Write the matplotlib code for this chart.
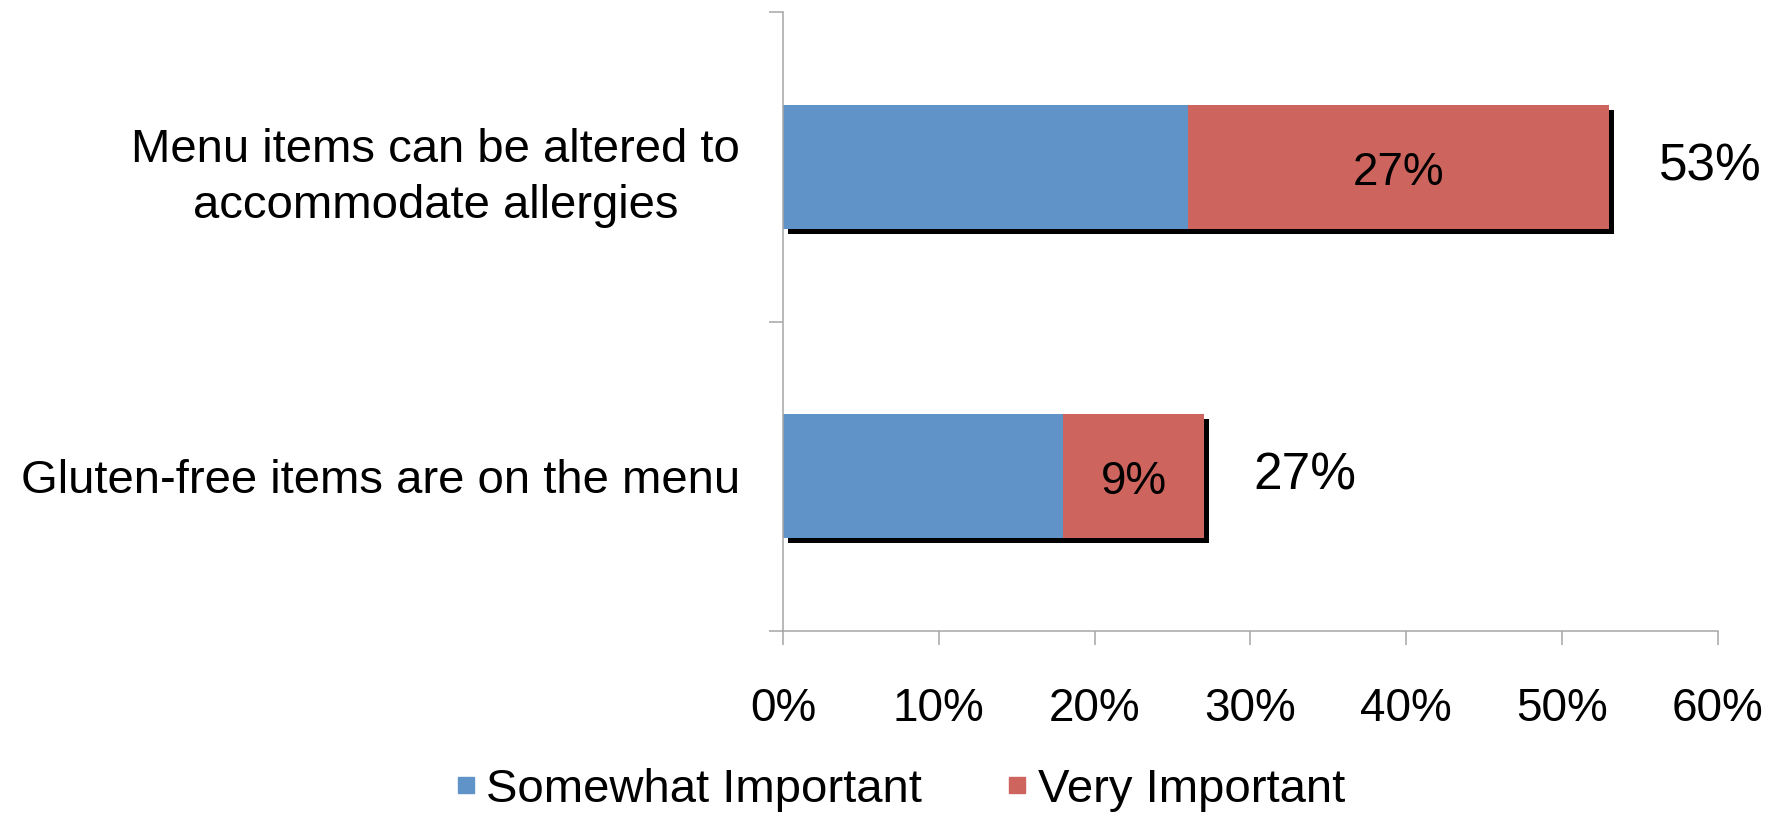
import matplotlib.pyplot as plt
import matplotlib.patheffects as pe
from matplotlib.lines import Line2D
from matplotlib.ticker import FuncFormatter

plt.rcParams["font.family"] = ["Liberation Sans", "DejaVu Sans"]

categories = ["Gluten-free items are on the menu",
              "Menu items can be altered to\naccommodate allergies"]
somewhat = [18, 26]
very = [9, 27]
totals = [27, 53]
series_names = ["Somewhat Important", "Very Important"]
colors = ["#6094C8", "#CE645E"]

fig = plt.figure(figsize=(17.83, 8.19), dpi=100)
ax = fig.add_axes([783 / 1783, 1 - 631 / 819, 935 / 1783, 619 / 819])

shadow = [pe.SimplePatchShadow(offset=(3.6, -3.6), shadow_rgbFace="black", alpha=1), pe.Normal()]
ypos = list(range(len(categories)))
ax.barh(ypos, somewhat, height=0.4, color=colors[0], path_effects=shadow, zorder=2)
ax.barh(ypos, very, left=somewhat, height=0.4, color=colors[1], path_effects=shadow, zorder=3)

# values inside the red segments and totals beside the bars
for y, s, v, t in zip(ypos, somewhat, very, totals):
    ax.text(s + v / 2, y - 0.02, f"{v}%", ha="center", va="center", fontsize=33, zorder=4)
    ax.annotate(f"{t}%", xy=(s + v, y), xytext=(36, 0), textcoords="offset points",
                ha="left", va="center", fontsize=37)

ax.set_xlim(0, 60)
ax.set_ylim(-0.5, 1.5)
ax.set_xticks(range(0, 61, 10))
ax.xaxis.set_major_formatter(FuncFormatter(lambda x, _: f"{x:.0f}%"))
ax.set_yticks(ypos)
ax.set_yticklabels(categories, fontsize=34, multialignment="center", linespacing=1.35)
ax.set_yticks([-0.5, 0.5, 1.5], minor=True)

for side in ["top", "right"]:
    ax.spines[side].set_visible(False)
for side in ["left", "bottom"]:
    ax.spines[side].set_color("#A6A6A6")
    ax.spines[side].set_linewidth(1.1)

ax.tick_params(axis="y", which="major", length=0, pad=31)
ax.tick_params(axis="y", which="minor", length=10, width=1.1, color="#A6A6A6")
ax.tick_params(axis="x", which="major", length=10, width=1.1, color="#A6A6A6",
               labelsize=33, pad=30)

handles = [Line2D([], [], marker="s", linestyle="", markersize=12, color=c) for c in colors]
fig.legend(handles, series_names, loc="center", bbox_to_anchor=(900 / 1783, 1 - 790 / 819),
           ncol=2, frameon=False, fontsize=34, handlelength=0.45, handletextpad=0.2,
           columnspacing=1.8)

fig.savefig("out.png", dpi=100)
